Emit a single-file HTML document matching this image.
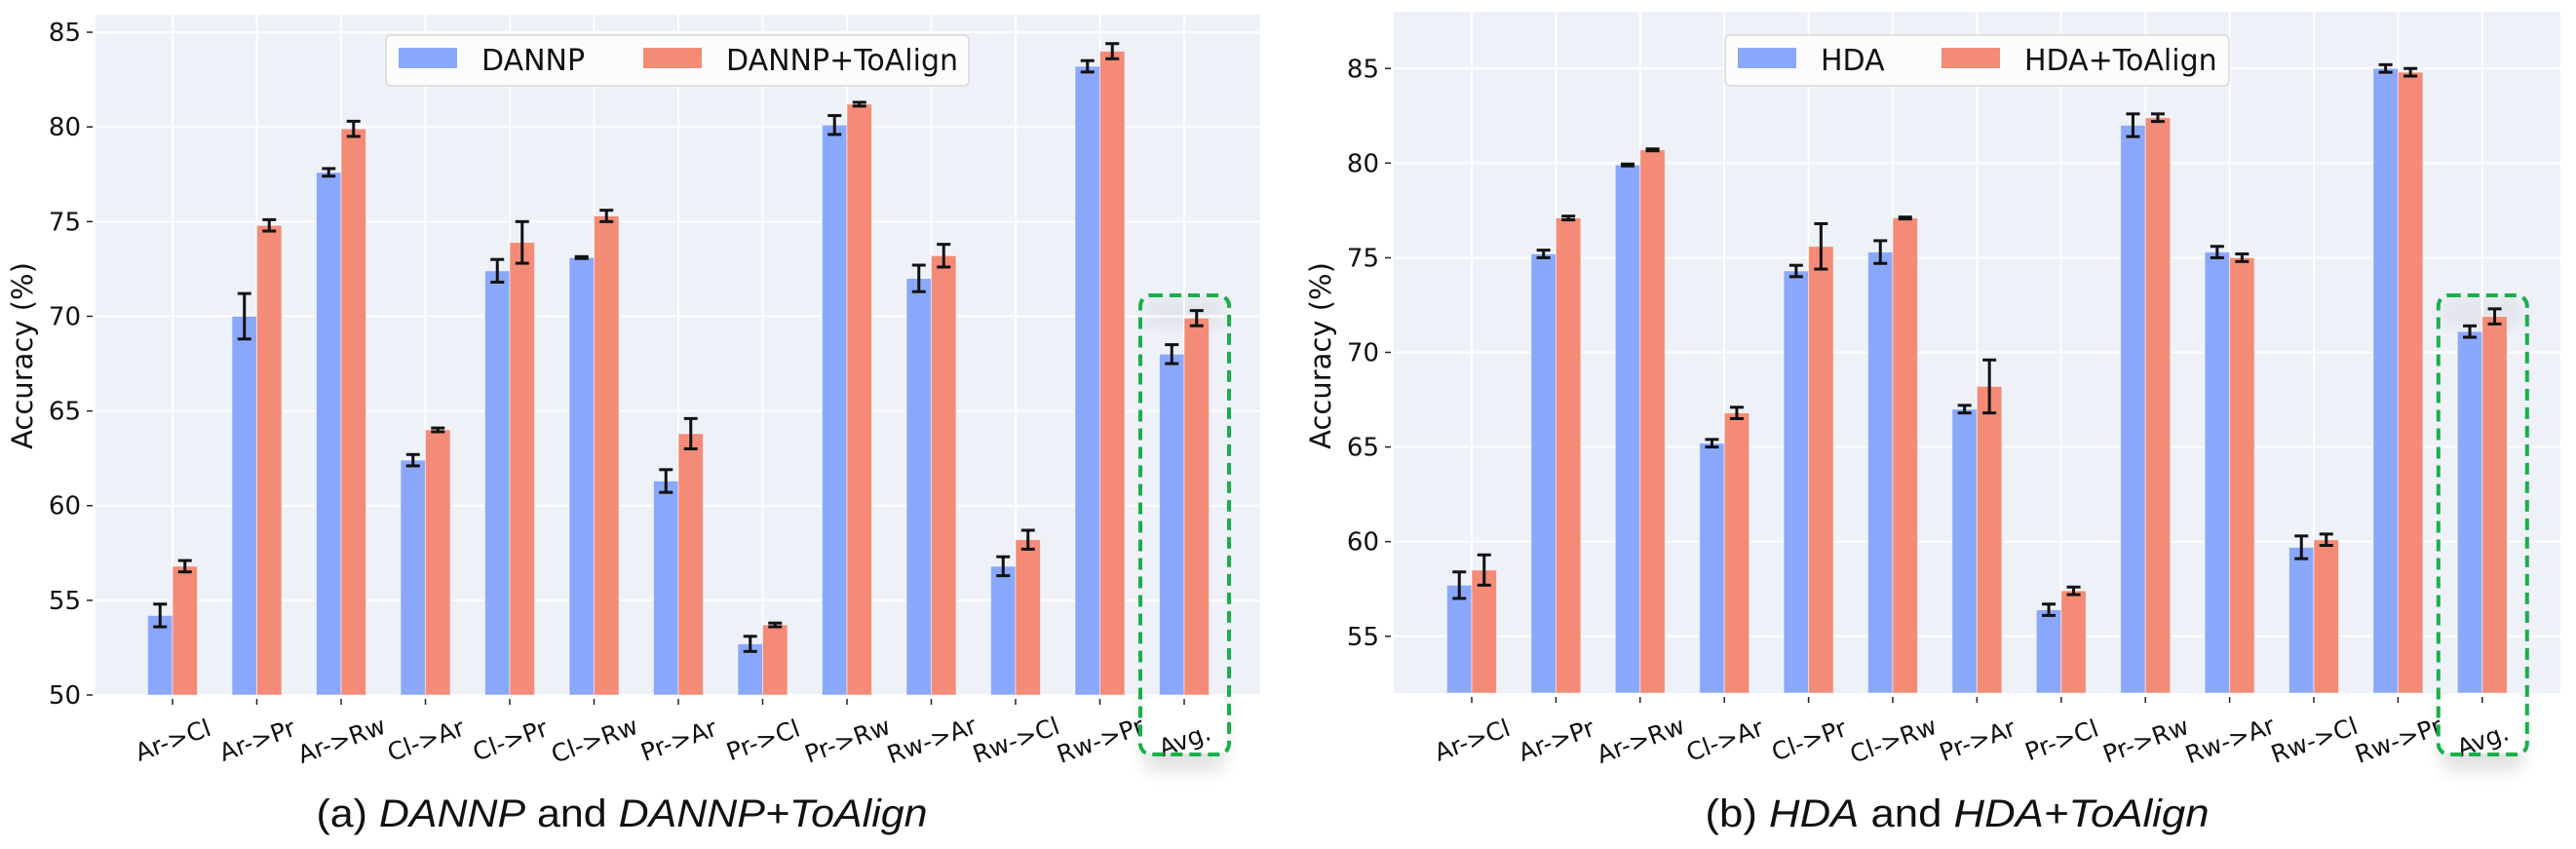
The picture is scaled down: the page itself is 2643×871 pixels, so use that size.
<!DOCTYPE html>
<html><head><meta charset="utf-8"><style>
html,body{margin:0;padding:0;background:#fff;}
svg{display:block;}
text{font-family:"DejaVu Sans","Liberation Sans",sans-serif;fill:#111;}
.cap{font-family:"Liberation Sans","DejaVu Sans",sans-serif;}
</style></head><body>
<svg id="fig" width="2643" height="871" viewBox="0 0 2643 871" xmlns="http://www.w3.org/2000/svg">
<defs>
<filter id="sh" x="-40%" y="-10%" width="180%" height="130%"><feGaussianBlur stdDeviation="9"/></filter>
</defs>
<g id="pa"></g>
<g id="pb"></g>
</svg>
<script>
const NS="http://www.w3.org/2000/svg";
const categories=["Ar->Cl","Ar->Pr","Ar->Rw","Cl->Ar","Cl->Pr","Cl->Rw","Pr->Ar","Pr->Cl","Pr->Rw","Rw->Ar","Rw->Cl","Rw->Pr","Avg."];
const dannpVals=[54.2,70.0,77.6,62.4,72.4,73.1,61.3,52.7,80.1,72.0,56.8,83.2,68.0];
const dannpErr=[0.6,1.2,0.2,0.3,0.6,0.05,0.6,0.4,0.5,0.7,0.5,0.3,0.5];
const dannpToVals=[56.8,74.8,79.9,64.0,73.9,75.3,63.8,53.7,81.2,73.2,58.2,84.0,69.9];
const dannpToErr=[0.3,0.3,0.4,0.1,1.1,0.3,0.8,0.1,0.1,0.6,0.5,0.4,0.4];
const hdaVals=[57.7,75.2,79.9,65.2,74.3,75.3,67.0,56.4,82.0,75.3,59.7,85.0,71.1];
const hdaErr=[0.7,0.2,0.05,0.2,0.3,0.6,0.2,0.3,0.6,0.3,0.6,0.2,0.3];
const hdaToVals=[58.5,77.1,80.7,66.8,75.6,77.1,68.2,57.4,82.4,75.0,60.1,84.8,71.9];
const hdaToErr=[0.8,0.1,0.05,0.3,1.2,0.05,1.4,0.2,0.2,0.2,0.3,0.2,0.4];
const ticksA=[50,55,60,65,70,75,80,85];
const ticksB=[55,60,65,70,75,80,85];

function el(p,t,a,txt){const e=document.createElementNS(NS,t);for(const k in a)e.setAttribute(k,a[k]);if(txt!==undefined)e.textContent=txt;p.appendChild(e);return e;}

function panel(g,cfg){
  const {x0,x1,yTop,yBot,vmin,vmax,tick0,step,ticks,s1,e1,s2,e2,n1,n2,leg,capX,capA,capB,capC,capLen,ytitleX}=cfg;
  const ys=v=>yBot-(v-vmin)/(vmax-vmin)*(yBot-yTop);
  const xs=i=>tick0+i*step;
  const bw=25.5;
  const last=categories.length-1, cx=xs(last);
  el(g,'rect',{x:cx-42,y:318,width:84,height:472,rx:11,fill:'#000',opacity:0.12,filter:'url(#sh)'});
  el(g,'rect',{x:cx-44,y:yBot,width:88,height:774-yBot-1,rx:10,fill:'#fff'});
  const bg=el(g,'rect',{x:x0,y:yTop,width:x1-x0,height:yBot-yTop,fill:'#eef2f8'});
  
  
  el(g,'rect',{x:cx-40,y:306,width:80,height:30,fill:'#000',opacity:0.05,filter:'url(#sh)'});
  ticks.forEach(t=>{
    const gl=el(g,'line',{x1:x0,x2:x1,y1:ys(t),y2:ys(t),stroke:'#fff','stroke-width':2});
    
    
    el(g,'line',{x1:x0-9,x2:x0-3,y1:ys(t),y2:ys(t),stroke:'#222','stroke-width':1.5});
    const tl=el(g,'text',{x:x0-15,y:ys(t)+9,'text-anchor':'end','font-size':26},String(t));
    
    
  });
  categories.forEach((c,i)=>{
    const vl=el(g,'line',{x1:xs(i),x2:xs(i),y1:yTop,y2:yBot,stroke:'#fff','stroke-width':2});
    
    
  });
  categories.forEach((c,i)=>{
    const b1=el(g,'rect',{x:xs(i)-bw,y:ys(s1[i]),width:bw,height:yBot-ys(s1[i]),fill:'#8aa8fb',stroke:'#fff','stroke-opacity':0.5,'stroke-width':1});
    
    
    const b2=el(g,'rect',{x:xs(i),y:ys(s2[i]),width:bw,height:yBot-ys(s2[i]),fill:'#f48b77',stroke:'#fff','stroke-opacity':0.5,'stroke-width':1});
    
    
    [[xs(i)-bw/2,s1[i],e1[i]],[xs(i)+bw/2,s2[i],e2[i]]].forEach(([x,v,e])=>{
      const eg=el(g,'g',{stroke:'#111','stroke-width':3});
      
      
      el(eg,'line',{x1:x,x2:x,y1:ys(v+e),y2:ys(v-e)});
      el(eg,'line',{x1:x-7,x2:x+7,y1:ys(v+e),y2:ys(v+e)});
      el(eg,'line',{x1:x-7,x2:x+7,y1:ys(v-e),y2:ys(v-e)});
    });
    el(g,'line',{x1:xs(i),x2:xs(i),y1:yBot+4,y2:yBot+10,stroke:'#222','stroke-width':1.5});
    const tl=el(g,'text',{x:xs(i),y:768,'text-anchor':'middle','font-size':25,transform:`rotate(-20 ${xs(i)} 758)`},c);
    
    
  });
  const hb=el(g,'rect',{x:cx-45,y:303,width:91,height:471,rx:11,fill:'none',stroke:'#18b04a','stroke-width':4,'stroke-dasharray':'12 7'});
  
  
  const lg=el(g,'g',{});
  
  
  el(lg,'rect',{x:leg[0],y:36,width:leg[1]-leg[0],height:52,rx:5,fill:'#fcfcfc',stroke:'#d8d8d8','stroke-width':1.5});
  const le1=el(lg,'rect',{x:leg[0]+13,y:49,width:60,height:21,fill:'#8aa8fb'});
  
  
  el(lg,'text',{x:leg[0]+98,y:72,'font-size':30},n1);
  const le2=el(lg,'rect',{x:leg[2],y:49,width:60,height:21,fill:'#f48b77'});
  
  
  el(lg,'text',{x:leg[2]+85,y:72,'font-size':30},n2);
  const yt=el(g,'text',{x:ytitleX,y:365,'text-anchor':'middle','font-size':29,transform:`rotate(-90 ${ytitleX} 365)`,dy:10},'Accuracy (%)');
  
  
  const cp=el(g,'text',{x:capX,y:848,'text-anchor':'middle','font-size':40,class:'cap',textLength:capLen,lengthAdjust:'spacingAndGlyphs'});
  
  
  el(cp,'tspan',{},capA+' ');
  el(cp,'tspan',{'font-style':'italic'},capB);
  el(cp,'tspan',{},' and ');
  el(cp,'tspan',{'font-style':'italic'},capC);
}
panel(document.getElementById('pa'),{x0:98,x1:1293,yTop:15,yBot:713,vmin:50,vmax:85.93,tick0:177,step:86.5,ticks:ticksA,
  s1:dannpVals,e1:dannpErr,s2:dannpToVals,e2:dannpToErr,n1:'DANNP',n2:'DANNP+ToAlign',leg:[396,994,660],
  capX:638,capA:'(a)',capB:'DANNP',capC:'DANNP+ToAlign',capLen:627,ytitleX:23});
panel(document.getElementById('pb'),{x0:1430,x1:2627,yTop:12,yBot:711,vmin:52.0,vmax:88.0,tick0:1510,step:86.4,ticks:ticksB,
  s1:hdaVals,e1:hdaErr,s2:hdaToVals,e2:hdaToErr,n1:'HDA',n2:'HDA+ToAlign',leg:[1770,2287,1992],
  capX:2008,capA:'(b)',capB:'HDA',capC:'HDA+ToAlign',capLen:517,ytitleX:1355});
</script>
</body></html>
